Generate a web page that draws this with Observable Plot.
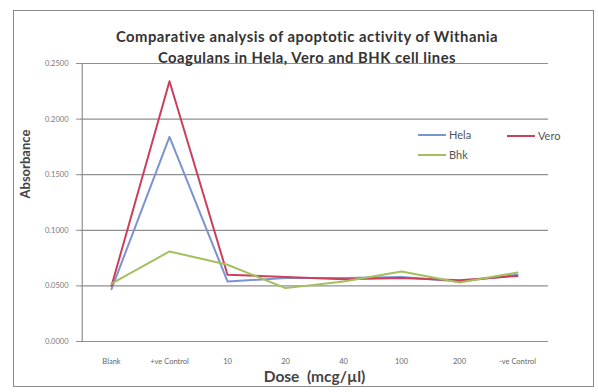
<!DOCTYPE html>
<html>
<head>
<meta charset="utf-8">
<script src="https://cdn.jsdelivr.net/npm/d3@7"></script>
<script src="https://cdn.jsdelivr.net/npm/@observablehq/plot@0.6"></script>
<style>
  html, body { margin: 0; padding: 0; background: #fff; }
  #wrap { position: relative; width: 598px; height: 392px; overflow: hidden; }
  #frame { position: absolute; left: 13px; top: 10px; width: 581px; height: 377px; border: 1.5px solid #8a8a8a; box-sizing: border-box; pointer-events: none; }
  #title { position: absolute; left: 7px; width: 600px; top: 26px; text-align: center; font: bold 14.8px Lato, "Open Sans", sans-serif; letter-spacing: 0.5px; color: #333; line-height: 21px; }
  .leg { position: absolute; font: 11px Lato, "Open Sans", sans-serif; color: #555; display: flex; align-items: center; }
  .leg span.sw { display: inline-block; width: 28px; height: 2px; margin-right: 3px; }
  #chart { position: absolute; left: 0; top: 0; }
</style>
</head>
<body>
<div id="wrap">
  <div id="chart"></div>
  <div id="frame"></div>
  <div id="title">Comparative analysis of apoptotic activity of Withania<br>Coagulans in Hela, Vero and BHK cell lines</div>
  <div id="legend"></div>
</div>
<script>
const doses = ["Blank", "+ve Control", "10", "20", "40", "100", "200", "-ve Control"];
const hela = [0.047, 0.184, 0.054, 0.057, 0.057, 0.058, 0.054, 0.060];
const vero = [0.050, 0.234, 0.060, 0.058, 0.056, 0.057, 0.055, 0.059];
const bhk  = [0.052, 0.081, 0.069, 0.048, 0.054, 0.063, 0.053, 0.062];
const seriesNames = ["Hela", "Vero", "Bhk"];
const seriesColors = ["#7b93d0", "#cc3f5a", "#a3c05c"];
const yTicks = [0, 0.05, 0.10, 0.15, 0.20, 0.25];

const rows = [];
[hela, vero, bhk].forEach((vals, si) => {
  vals.forEach((v, i) => rows.push({series: seriesNames[si], dose: doses[i], value: v}));
});

const W = 598, H = 392, ML = 80, MR = 50;
const step = (W - ML - MR) / doses.length;
const chart = Plot.plot({
  width: W,
  height: H,
  marginLeft: ML,
  marginRight: MR,
  marginTop: 63,
  marginBottom: 51,
  style: {background: "transparent", fontFamily: "Lato, 'Open Sans', sans-serif"},
  x: {type: "point", domain: doses, padding: 0.5, label: null},
  y: {domain: [0, 0.25], label: null},
  color: {domain: seriesNames, range: seriesColors},
  marks: [
    Plot.gridY(yTicks, {stroke: "#8f8f8f", strokeOpacity: 1, strokeWidth: 1.2}),
    Plot.ruleX([doses[0]], {dx: -step / 2, stroke: "#8f8f8f", strokeWidth: 1.2}),
    Plot.axisY(yTicks, {tickFormat: d3.format(".4f"), tickSize: 4, tickPadding: 8, fontSize: 7.5, fill: "#777", stroke: "#8f8f8f"}),
    Plot.axisX(doses, {tickSize: 0, tickPadding: 17, fontSize: 7.5, fill: "#666"}),
    Plot.line(rows, {x: "dose", y: "value", z: "series", stroke: "series", strokeWidth: 2}),
    Plot.text(["Dose  (mcg/µl)"], {frameAnchor: "bottom", dy: 40, text: d => d, fontSize: 15.5, fontWeight: "bold", fill: "#444"}),
    Plot.text(["Absorbance"], {frameAnchor: "left", dx: -55, dy: -4, rotate: -90, text: d => d, fontSize: 13, fontWeight: "bold", fill: "#444"})
  ]
});
document.getElementById("chart").appendChild(chart);

const legendPos = [{left: 418, top: 128}, {left: 507, top: 129}, {left: 418, top: 148}];
const legend = document.getElementById("legend");
seriesNames.forEach((name, i) => {
  const d = document.createElement("div");
  d.className = "leg";
  d.style.left = legendPos[i].left + "px";
  d.style.top = legendPos[i].top + "px";
  d.innerHTML = `<span class="sw" style="background:${seriesColors[i]}"></span>${name}`;
  legend.appendChild(d);
});
</script>
</body>
</html>
